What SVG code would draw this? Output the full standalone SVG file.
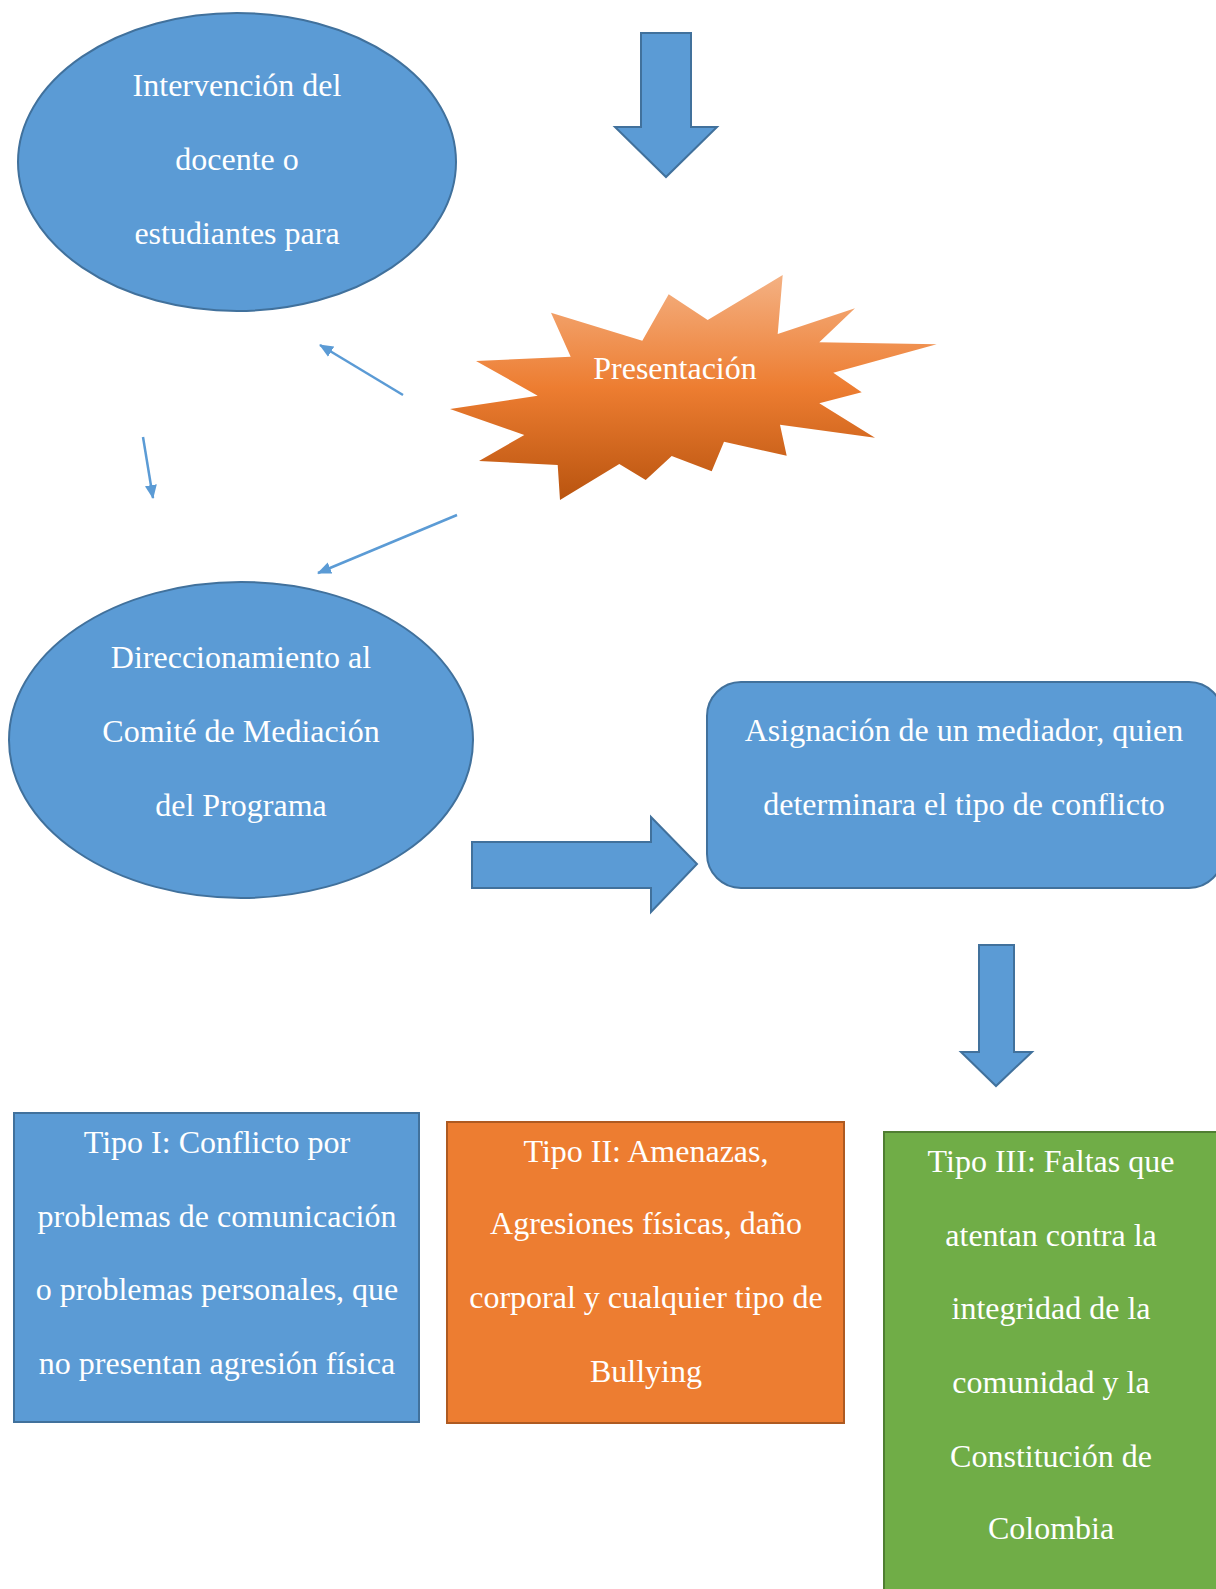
<svg xmlns="http://www.w3.org/2000/svg" width="1216" height="1589" viewBox="0 0 1216 1589">
<style>
.t{font-family:"Liberation Serif","Times New Roman",serif;font-size:32px;fill:#ffffff;text-anchor:middle}
.blue{fill:#5B9BD5;stroke:#41719C;stroke-width:2}
.conn{stroke:#5B9BD5;stroke-width:2.5;fill:none}
</style>
<defs>
<linearGradient id="burst" x1="0" y1="0" x2="0" y2="1">
<stop offset="0" stop-color="#F4B183"/>
<stop offset="0.5" stop-color="#ED7D31"/>
<stop offset="1" stop-color="#B9540F"/>
</linearGradient>
<marker id="ah" markerUnits="userSpaceOnUse" markerWidth="14" markerHeight="14" viewBox="0 0 14 14" refX="13" refY="7" orient="auto">
<path d="M0,1 L14,7 L0,13 Z" fill="#5B9BD5"/>
</marker>
</defs>
<rect width="1216" height="1589" fill="#ffffff"/>

<g id="intervencion">
<ellipse class="blue" cx="237" cy="162" rx="219" ry="149"/>
<text class="t" x="237" y="96">Intervención del</text>
<text class="t" x="237" y="170">docente o</text>
<text class="t" x="237" y="244">estudiantes para</text>
</g>

<g id="presentacion">
<polygon fill="url(#burst)" points="782.7,275 777.7,334 855,308.3 819.3,342.3 936.7,344.3 833.3,372.7 861.7,392.3 819.3,403.3 875,437.7 780,424.7 786.7,455.7 724,441.7 711.7,471.3 671.7,456 645.7,480 619.3,464 560,500 557.7,465 479,461 524.3,435 450,409 537.7,395.7 476,361 570.7,356.7 551,312.7 642.3,340.7 668.7,294.3 707.7,320"/>
<text class="t" x="675" y="379">Presentación</text>
</g>

<g id="direccionamiento">
<ellipse class="blue" cx="241" cy="740" rx="232" ry="158"/>
<text class="t" x="241" y="668">Direccionamiento al</text>
<text class="t" x="241" y="742">Comité de Mediación</text>
<text class="t" x="241" y="816">del Programa</text>
</g>

<g id="asignacion">
<rect class="blue" x="707" y="682" width="516" height="206" rx="34" ry="34"/>
<text class="t" x="964" y="741">Asignación de un mediador, quien</text>
<text class="t" x="964" y="815">determinara el tipo de conflicto</text>
</g>

<g id="tipo1">
<rect x="14" y="1113" width="405" height="309" fill="#5B9BD5" stroke="#41719C" stroke-width="2"/>
<text class="t" x="217" y="1153">Tipo I: Conflicto por</text>
<text class="t" x="217" y="1227">problemas de comunicación</text>
<text class="t" x="217" y="1300">o problemas personales, que</text>
<text class="t" x="217" y="1374">no presentan agresión física</text>
</g>

<g id="tipo2">
<rect x="447" y="1122" width="397" height="301" fill="#ED7D31" stroke="#AE5A21" stroke-width="2"/>
<text class="t" x="646" y="1162">Tipo II: Amenazas,</text>
<text class="t" x="646" y="1234">Agresiones físicas, daño</text>
<text class="t" x="646" y="1308">corporal y cualquier tipo de</text>
<text class="t" x="646" y="1382">Bullying</text>
</g>

<g id="tipo3">
<rect x="884" y="1132" width="334" height="470" fill="#70AD47" stroke="#507E32" stroke-width="2"/>
<text class="t" x="1051" y="1172">Tipo III: Faltas que</text>
<text class="t" x="1051" y="1246">atentan contra la</text>
<text class="t" x="1051" y="1319">integridad de la</text>
<text class="t" x="1051" y="1393">comunidad y la</text>
<text class="t" x="1051" y="1467">Constitución de</text>
<text class="t" x="1051" y="1539">Colombia</text>
</g>

<g id="connectors">
<polygon class="blue" points="641,33 691,33 691,127 717,127 666,177 615,127 641,127"/>
<polygon class="blue" points="472,842 651,842 651,817 697,864 651,912 651,888 472,888"/>
<polygon class="blue" points="979,945 1014,945 1014,1052 1032,1052 996,1086 961,1052 979,1052"/>
<line class="conn" x1="403" y1="395" x2="320" y2="345" marker-end="url(#ah)"/>
<line class="conn" x1="143" y1="437" x2="153" y2="498" marker-end="url(#ah)"/>
<line class="conn" x1="457" y1="515" x2="318" y2="573" marker-end="url(#ah)"/>
</g>
</svg>
